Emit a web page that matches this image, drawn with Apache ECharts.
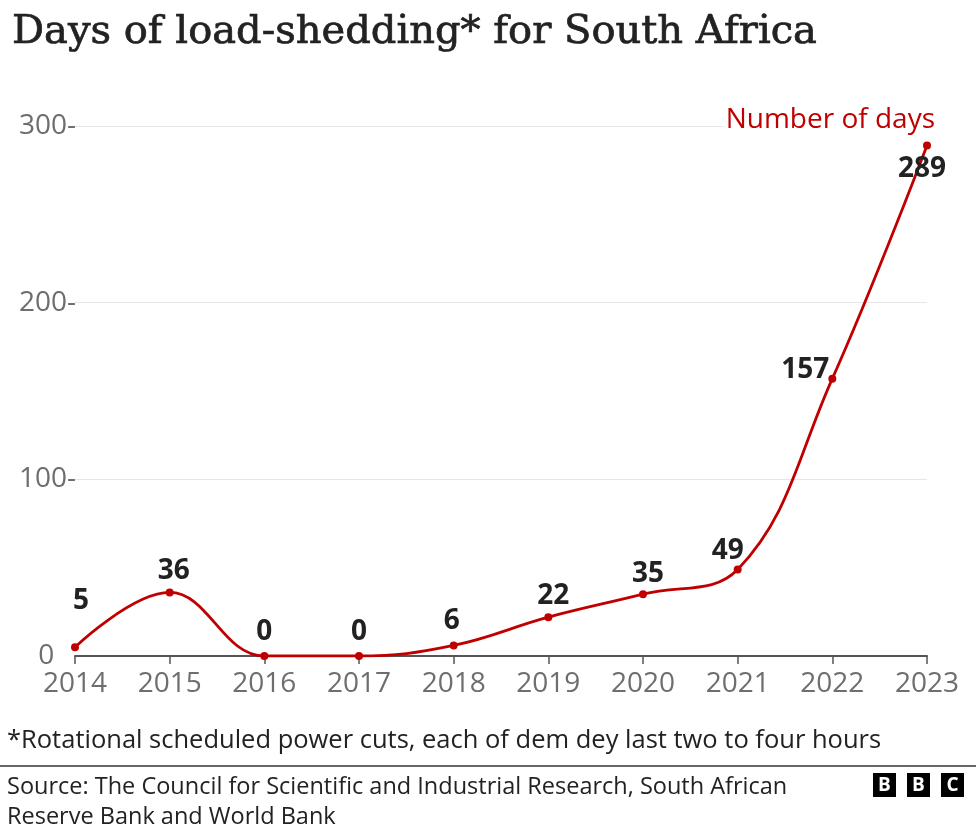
<!DOCTYPE html>
<html><head><meta charset="utf-8">
<script src="https://cdn.jsdelivr.net/npm/echarts@6/dist/echarts.min.js"></script>
<style>html,body{margin:0;padding:0;background:#fff}#c{width:976px;height:833px}</style>
</head><body><div id="c"></div>
<script>
const years = ['2014','2015','2016','2017','2018','2019','2020','2021','2022','2023'];
const days = [5, 36, 0, 0, 6, 22, 35, 49, 157, 289];
const yTicks = [0, 100, 200, 300];
const seriesName = 'Number of days';
const titleText = 'Days of load-shedding* for South Africa';
const footnote = '*Rotational scheduled power cuts, each of dem dey last two to four hours';
const sourceLines = ['Source: The Council for Scientific and Industrial Research, South African', 'Reserve Bank and World Bank'];

const SANS = '"Open Sans", "Noto Sans", sans-serif';
const RED = '#c00000';
const labelOffsets = [[6,-46],[4,-21],[0,-24],[0,-24],[-2,-24],[5,-21],[5,-20],[-10,-18],[-27,-9],[-5,24]];

const chart = echarts.init(document.getElementById('c'), null, {renderer:'canvas'});
const seriesData = days.map((v,i)=>({value:v, label:{offset:labelOffsets[i]}}));
const logo = ['B','B','C'].flatMap((ch,i)=>[
  {type:'rect', shape:{x:873+i*34, y:773, width:23, height:24}, style:{fill:'#000'}},
  {type:'text', x:884.5+i*34, y:785.5, style:{text:ch, fill:'#fff', font:'bold 19px "Open Sans", sans-serif', align:'center', verticalAlign:'middle'}}
]);
chart.setOption({
  animation:false,
  title:{text:titleText, left:7, top:8, textStyle:{fontFamily:'"DejaVu Serif", serif', fontSize:40, fontWeight:'normal', color:'#222', textBorderColor:'#222', textBorderWidth:0.7}},
  grid:{left:75, right:49, top:126, bottom:177, containLabel:false},
  xAxis:{type:'category', data:years, boundaryGap:false,
    axisLine:{lineStyle:{color:'#555', width:2}},
    axisTick:{show:true, length:8, lineStyle:{color:'#555', width:1.5}},
    axisLabel:{color:'#6e6e6e', fontSize:28, fontFamily:SANS, margin:14, interval:0}},
  yAxis:{type:'value', min:0, max:300, interval:100,
    axisLine:{show:false}, axisTick:{show:false},
    splitLine:{lineStyle:{color:'#e6e6e6', width:1}},
    axisLabel:{color:'#6e6e6e', fontSize:28, fontFamily:SANS, margin:-1, formatter:v=> v===0 ? '0   ' : v+'-'}},
  series:[{name:seriesName, type:'line', data:seriesData, smooth:0.4,
    lineStyle:{color:RED, width:2.8}, itemStyle:{color:RED},
    symbol:'circle', symbolSize:8,
    label:{show:true, position:'inside', color:'#222', fontSize:28, fontWeight:'bold', fontFamily:SANS}}],
  graphic:[
    {type:'text', right:39, top:106, z:100, style:{text:seriesName, fill:RED, font:'28px '+SANS, backgroundColor:'#fff', padding:[0,2]}},
    {type:'text', left:7, top:728, style:{text:footnote, fill:'#222', font:'25.5px '+SANS}},
    {type:'line', shape:{x1:0, y1:766, x2:976, y2:766}, style:{stroke:'#333', lineWidth:1.5}},
    {type:'text', left:7, top:772, style:{text:sourceLines.join('\n'), fill:'#222', font:'23.5px '+SANS, lineHeight:30}},
    ...logo
  ]
});
</script></body></html>
